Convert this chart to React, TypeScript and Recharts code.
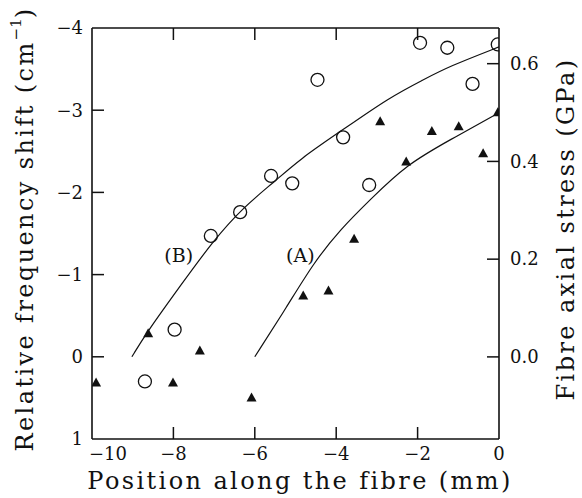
import {
  ComposedChart,
  Line,
  Scatter,
  XAxis,
  YAxis,
  ReferenceDot,
  Label,
} from "recharts";

// circles (open markers)
const circleX = [-8.7, -7.97, -7.08, -6.36, -5.6, -5.08, -4.46, -3.83, -3.19, -1.94, -1.27, -0.65, -0.03];
const circleY = [0.3, -0.33, -1.47, -1.76, -2.2, -2.11, -3.37, -2.67, -2.09, -3.82, -3.76, -3.32, -3.8];

// triangles (filled markers)
const triX = [-9.9, -8.62, -8.01, -7.35, -6.08, -4.81, -4.19, -3.56, -2.92, -2.28, -1.65, -0.99, -0.39, -0.03];
const triY = [0.32, -0.28, 0.32, -0.07, 0.5, -0.74, -0.8, -1.43, -2.86, -2.37, -2.74, -2.8, -2.47, -2.97];

// fitted curves
const curveBX = [-9.02, -8.65, -7.79, -7.01, -6.28, -5.54, -4.88, -3.9, -2.68, -1.86, -1.24, 0];
const curveBY = [0, -0.3, -0.89, -1.42, -1.82, -2.12, -2.41, -2.74, -3.16, -3.37, -3.53, -3.77];
const curveAX = [-6.0, -5.21, -4.56, -3.9, -3.17, -2.27, -1.2, 0];
const curveAY = [0, -0.61, -1.14, -1.55, -1.91, -2.34, -2.64, -2.97];

const xTicks = [-10, -8, -6, -4, -2, 0];
const shiftTicks = [-4, -3, -2, -1, 0, 1];
const stressTicks = [0, 0.2, 0.4, 0.6];

const X_MIN = -10;
const X_MAX = 0;
const SHIFT_TOP = -4;
const SHIFT_BOTTOM = 1;

const zip = (xs: number[], ys: number[]) => xs.map((x, i) => ({ x, y: ys[i] }));

const circles = zip(circleX, circleY);
const triangles = zip(triX, triY);
const curveB = zip(curveBX, curveBY);
const curveA = zip(curveAX, curveAY);

const FONT = "DejaVu Serif";
const INK = "#111";
const TICK = 12;
const minus = (v: number) => (v < 0 ? "\u2212" + Math.abs(v) : String(v));

const tickStyle = { fontFamily: FONT, fontSize: 18, fill: INK };
const markStyle = { stroke: INK, strokeWidth: 1.5, fill: "none" };

const BottomTick = (props: any) => {
  const { x, y, payload } = props;
  const first = payload.value === X_MIN;
  return (
    <text
      x={first ? x - 3 : x}
      y={y + 8}
      dy="0.71em"
      textAnchor={first ? "start" : "middle"}
      {...tickStyle}
    >
      {minus(payload.value)}
    </text>
  );
};

const LeftTick = (props: any) => (
  <text x={props.x - 9} y={props.y} dy="0.35em" textAnchor="end" {...tickStyle}>
    {minus(props.payload.value)}
  </text>
);

const RightTick = (props: any) => (
  <text x={props.x + 11} y={props.y} dy="0.35em" textAnchor="start" {...tickStyle}>
    {props.payload.value.toFixed(1)}
  </text>
);

// inward tick marks, placed at the tick values through the chart scales
const markUp = (p: any) => <path d={`M${p.cx},${p.cy}V${p.cy - TICK}`} {...markStyle} />;
const markDown = (p: any) => <path d={`M${p.cx},${p.cy}V${p.cy + TICK}`} {...markStyle} />;
const markRight = (p: any) => <path d={`M${p.cx},${p.cy}H${p.cx + TICK}`} {...markStyle} />;
const markLeft = (p: any) => <path d={`M${p.cx},${p.cy}H${p.cx - TICK}`} {...markStyle} />;

const OpenCircle = (props: any) => (
  <circle cx={props.cx} cy={props.cy} r={6.5} fill="none" stroke={INK} strokeWidth={1.3} />
);

const Triangle = (props: any) => {
  const { cx, cy } = props;
  return (
    <path
      d={`M${cx},${cy - 5.5} L${cx - 5},${cy + 3.5} L${cx + 5},${cy + 3.5} Z`}
      fill={INK}
    />
  );
};

const axisLine = { stroke: INK, strokeWidth: 1.6 };

const titleProps = {
  textAnchor: "middle" as const,
  dominantBaseline: "central" as const,
  fontFamily: FONT,
  fontSize: 24,
  letterSpacing: 2.4,
  fill: INK,
};

const innerX = xTicks.filter((v) => v !== X_MIN && v !== X_MAX);
const innerShift = shiftTicks.filter((v) => v !== SHIFT_TOP && v !== SHIFT_BOTTOM);

export default function App() {
  return (
    <div style={{ position: "absolute", left: 0, top: 0, background: "#fff" }}>
      <ComposedChart
        width={582}
        height={498}
        margin={{ top: 20, right: 23, bottom: 29, left: 32 }}
      >
        <XAxis
          dataKey="x"
          type="number"
          domain={[X_MIN, X_MAX]}
          ticks={xTicks}
          height={30}
          tickSize={0}
          tickMargin={0}
          axisLine={axisLine}
          tickLine={false}
          tick={<BottomTick />}
          allowDataOverflow
        >
          <Label
            content={() => (
              <text x={300} y={481} {...titleProps}>
                Position along the fibre (mm)
              </text>
            )}
          />
        </XAxis>
        <XAxis
          xAxisId="top"
          orientation="top"
          type="number"
          domain={[X_MIN, X_MAX]}
          height={8}
          axisLine={axisLine}
          tickLine={false}
          tick={false}
        />
        <YAxis
          dataKey="y"
          type="number"
          domain={[SHIFT_TOP, SHIFT_BOTTOM]}
          reversed
          ticks={shiftTicks}
          width={60}
          tickSize={0}
          tickMargin={0}
          axisLine={axisLine}
          tickLine={false}
          tick={<LeftTick />}
          allowDataOverflow
        >
          <Label
            content={() => (
              <text x={25} y={229} transform="rotate(-90 25 229)" {...titleProps}>
                Relative frequency shift (cm
                <tspan dy={-9} fontSize={15} letterSpacing={0}>
                  {"\u2212"}1
                </tspan>
                <tspan dy={9}>)</tspan>
              </text>
            )}
          />
        </YAxis>
        <YAxis
          yAxisId="right"
          orientation="right"
          type="number"
          domain={[-0.168, 0.673]}
          ticks={stressTicks}
          width={60}
          tickSize={0}
          tickMargin={0}
          axisLine={axisLine}
          tickLine={false}
          tick={<RightTick />}
          allowDataOverflow
        >
          <Label
            content={() => (
              <text x={566} y={229} transform="rotate(-90 566 229)" {...titleProps}>
                Fibre axial stress (GPa)
              </text>
            )}
          />
        </YAxis>

        {innerX.map((v) => (
          <ReferenceDot key={`b${v}`} x={v} y={SHIFT_BOTTOM} shape={markUp} />
        ))}
        {innerX.map((v) => (
          <ReferenceDot key={`t${v}`} x={v} y={SHIFT_TOP} shape={markDown} />
        ))}
        {innerShift.map((v) => (
          <ReferenceDot key={`l${v}`} x={X_MIN} y={v} shape={markRight} />
        ))}
        {stressTicks.map((v) => (
          <ReferenceDot key={`r${v}`} x={X_MAX} y={v} yAxisId="right" shape={markLeft} />
        ))}

        <Line
          data={curveB}
          dataKey="y"
          type="basis"
          stroke={INK}
          strokeWidth={1.2}
          dot={false}
          activeDot={false}
          isAnimationActive={false}
        />
        <Line
          data={curveA}
          dataKey="y"
          type="basis"
          stroke={INK}
          strokeWidth={1.2}
          dot={false}
          activeDot={false}
          isAnimationActive={false}
        />
        <Scatter data={circles} dataKey="y" shape={<OpenCircle />} isAnimationActive={false} />
        <Scatter data={triangles} dataKey="y" shape={<Triangle />} isAnimationActive={false} />

        <ReferenceDot
          x={-7.87}
          y={-1.24}
          r={0}
          stroke="none"
          label={{ value: "(B)", position: "center", fontFamily: FONT, fontSize: 19, fill: INK }}
        />
        <ReferenceDot
          x={-4.88}
          y={-1.24}
          r={0}
          stroke="none"
          label={{ value: "(A)", position: "center", fontFamily: FONT, fontSize: 19, fill: INK }}
        />
      </ComposedChart>
    </div>
  );
}
